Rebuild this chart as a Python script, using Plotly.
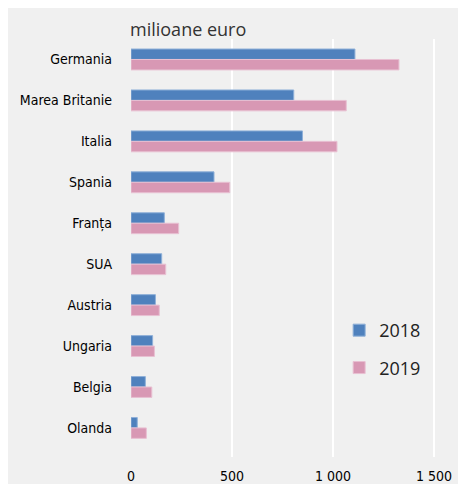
import plotly.graph_objects as go

countries = ["Germania", "Marea Britanie", "Italia", "Spania", "Franța",
             "SUA", "Austria", "Ungaria", "Belgia", "Olanda"]
values_2018 = [1109, 806, 849, 411, 165, 152, 121, 107, 71, 31]
values_2019 = [1327, 1066, 1020, 489, 236, 172, 140, 116, 103, 76]
x_tickvals = [0, 500, 1000, 1500]
x_ticktext = ["0", "500", "1 000", "1 500"]
unit_label = "milioane euro"

BG = "#f0f0f0"
BLUE = "#4f81bd"
PINK = "#d898b4"
TICK_FONT = dict(family="DejaVu Sans Condensed, Liberation Sans Narrow, DejaVu Sans", size=14, color="#000000")

# page body has an 8px margin, so the figure sits at (8, 8)
W, H = 458, 476
L, R, T, B = 123, 22, 31, 27

fig = go.Figure()
fig.add_trace(go.Bar(
    y=countries, x=values_2018, orientation="h", name="2018",
    marker=dict(color=BLUE, line=dict(color="#8fb0d8", width=1)),
    legendgroup="a",
))
fig.add_trace(go.Bar(
    y=countries, x=values_2019, orientation="h", name="2019",
    marker=dict(color=PINK, line=dict(color="#e8c0d2", width=1)),
    legendgroup="b",
))

fig.update_layout(
    width=W, height=H,
    margin=dict(l=L, r=R, t=T, b=B, autoexpand=False),
    paper_bgcolor=BG, plot_bgcolor=BG,
    barmode="group", bargap=0.49, bargroupgap=0,
    showlegend=True,
    legend=dict(
        x=0.665, y=0.347, xanchor="left", yanchor="top",
        bgcolor="rgba(0,0,0,0)",
        font=dict(family="Open Sans", size=18, color="#222"),
        traceorder="grouped", tracegroupgap=11,
        itemwidth=30,
    ),
    xaxis=dict(
        range=[0, 1550], tickvals=x_tickvals, ticktext=x_ticktext,
        showgrid=True, gridcolor="white", gridwidth=2,
        zeroline=False, showline=False, automargin=False,
        ticks="outside", ticklen=6, tickcolor="rgba(0,0,0,0)",
        tickfont=TICK_FONT,
    ),
    yaxis=dict(
        type="category", range=[9.71, -0.5],
        showgrid=False, zeroline=False, showline=False, automargin=False,
        ticks="", ticklabelstandoff=18,
        tickfont=TICK_FONT,
    ),
    annotations=[
        dict(text=unit_label, xref="paper", yref="paper",
             x=0, y=1.0, xanchor="left", yanchor="bottom", yshift=-4, xshift=-3,
             showarrow=False,
             font=dict(family="Open Sans", size=18, color="#333")),
    ],
)

fig.write_html("out.html", config={"displayModeBar": False})
